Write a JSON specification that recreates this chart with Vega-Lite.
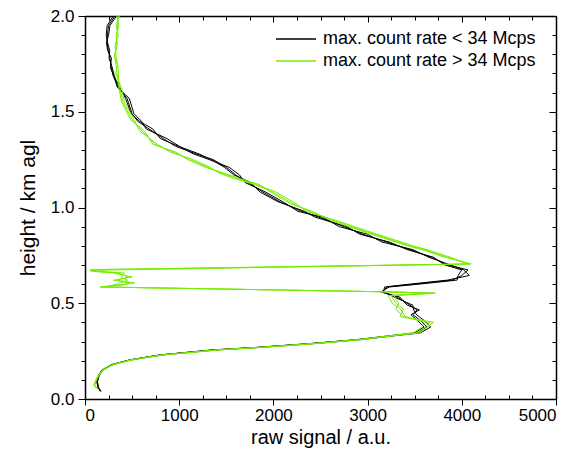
{
  "$schema": "https://vega.github.io/schema/vega-lite/v6.json",
  "width": 471,
  "height": 383,
  "autosize": {"type": "none"},
  "padding": {"left": 85, "top": 16, "right": 22, "bottom": 55},
  "background": "white",
  "config": {
    "font": "Liberation Sans",
    "view": {"stroke": null},
    "axis": {
      "domainColor": "black",
      "domainWidth": 1.5,
      "tickColor": "black",
      "tickWidth": 1,
      "labelColor": "black",
      "titleColor": "black",
      "labelFont": "Liberation Sans",
      "titleFont": "Liberation Sans",
      "labelFontSize": 17,
      "titleFontSize": 20,
      "titleFontWeight": "normal",
      "grid": false,
      "labelOverlap": false
    },
    "legend": {"labelFont": "Liberation Sans"}
  },
  "data": {"values": [
    {"g":"<","p":"b1","h":2.00,"x":318},{"g":"<","p":"b1","h":1.95,"x":250},{"g":"<","p":"b1","h":1.90,"x":238},{"g":"<","p":"b1","h":1.86,"x":233},{"g":"<","p":"b1","h":1.82,"x":250},{"g":"<","p":"b1","h":1.78,"x":265},{"g":"<","p":"b1","h":1.73,"x":280},{"g":"<","p":"b1","h":1.69,"x":297},{"g":"<","p":"b1","h":1.63,"x":350},{"g":"<","p":"b1","h":1.57,"x":446},{"g":"<","p":"b1","h":1.49,"x":500},{"g":"<","p":"b1","h":1.45,"x":560},{"g":"<","p":"b1","h":1.41,"x":680},{"g":"<","p":"b1","h":1.36,"x":830},{"g":"<","p":"b1","h":1.32,"x":960},{"g":"<","p":"b1","h":1.28,"x":1180},{"g":"<","p":"b1","h":1.25,"x":1360},{"g":"<","p":"b1","h":1.21,"x":1500},{"g":"<","p":"b1","h":1.17,"x":1600},{"g":"<","p":"b1","h":1.13,"x":1730},{"g":"<","p":"b1","h":1.08,"x":1890},{"g":"<","p":"b1","h":1.03,"x":2070},{"g":"<","p":"b1","h":0.98,"x":2300},{"g":"<","p":"b1","h":0.95,"x":2480},{"g":"<","p":"b1","h":0.90,"x":2750},{"g":"<","p":"b1","h":0.86,"x":2950},{"g":"<","p":"b1","h":0.82,"x":3200},{"g":"<","p":"b1","h":0.78,"x":3450},{"g":"<","p":"b1","h":0.74,"x":3680},{"g":"<","p":"b1","h":0.70,"x":3850},{"g":"<","p":"b1","h":0.674,"x":4066},{"g":"<","p":"b1","h":0.645,"x":4000},{"g":"<","p":"b1","h":0.621,"x":3900},{"g":"<","p":"b1","h":0.60,"x":3500},{"g":"<","p":"b1","h":0.585,"x":3206},{"g":"<","p":"b1","h":0.559,"x":3153},{"g":"<","p":"b1","h":0.533,"x":3312},{"g":"<","p":"b1","h":0.49,"x":3450},{"g":"<","p":"b1","h":0.465,"x":3524},{"g":"<","p":"b1","h":0.44,"x":3482},{"g":"<","p":"b1","h":0.41,"x":3560},{"g":"<","p":"b1","h":0.376,"x":3630},{"g":"<","p":"b1","h":0.345,"x":3524},{"g":"<","p":"b1","h":0.33,"x":3250},{"g":"<","p":"b1","h":0.31,"x":2900},{"g":"<","p":"b1","h":0.29,"x":2420},{"g":"<","p":"b1","h":0.27,"x":1850},{"g":"<","p":"b1","h":0.256,"x":1360},{"g":"<","p":"b1","h":0.23,"x":800},{"g":"<","p":"b1","h":0.204,"x":478},{"g":"<","p":"b1","h":0.18,"x":290},{"g":"<","p":"b1","h":0.15,"x":180},{"g":"<","p":"b1","h":0.12,"x":145},{"g":"<","p":"b1","h":0.09,"x":128},{"g":"<","p":"b1","h":0.06,"x":140},{"g":"<","p":"b1","h":0.04,"x":165},
    {"g":"<","p":"b2","h":2.00,"x":300},{"g":"<","p":"b2","h":1.95,"x":235},{"g":"<","p":"b2","h":1.90,"x":225},{"g":"<","p":"b2","h":1.86,"x":240},{"g":"<","p":"b2","h":1.82,"x":262},{"g":"<","p":"b2","h":1.78,"x":255},{"g":"<","p":"b2","h":1.73,"x":290},{"g":"<","p":"b2","h":1.69,"x":310},{"g":"<","p":"b2","h":1.63,"x":340},{"g":"<","p":"b2","h":1.57,"x":470},{"g":"<","p":"b2","h":1.49,"x":520},{"g":"<","p":"b2","h":1.45,"x":600},{"g":"<","p":"b2","h":1.41,"x":650},{"g":"<","p":"b2","h":1.36,"x":870},{"g":"<","p":"b2","h":1.32,"x":1000},{"g":"<","p":"b2","h":1.28,"x":1150},{"g":"<","p":"b2","h":1.25,"x":1320},{"g":"<","p":"b2","h":1.21,"x":1530},{"g":"<","p":"b2","h":1.17,"x":1640},{"g":"<","p":"b2","h":1.13,"x":1700},{"g":"<","p":"b2","h":1.08,"x":1920},{"g":"<","p":"b2","h":1.03,"x":2100},{"g":"<","p":"b2","h":0.98,"x":2260},{"g":"<","p":"b2","h":0.95,"x":2520},{"g":"<","p":"b2","h":0.90,"x":2700},{"g":"<","p":"b2","h":0.86,"x":3000},{"g":"<","p":"b2","h":0.82,"x":3150},{"g":"<","p":"b2","h":0.78,"x":3480},{"g":"<","p":"b2","h":0.74,"x":3650},{"g":"<","p":"b2","h":0.70,"x":3880},{"g":"<","p":"b2","h":0.674,"x":4020},{"g":"<","p":"b2","h":0.645,"x":4080},{"g":"<","p":"b2","h":0.621,"x":3850},{"g":"<","p":"b2","h":0.60,"x":3450},{"g":"<","p":"b2","h":0.585,"x":3180},{"g":"<","p":"b2","h":0.559,"x":3170},{"g":"<","p":"b2","h":0.533,"x":3280},{"g":"<","p":"b2","h":0.49,"x":3480},{"g":"<","p":"b2","h":0.465,"x":3490},{"g":"<","p":"b2","h":0.44,"x":3520},{"g":"<","p":"b2","h":0.41,"x":3600},{"g":"<","p":"b2","h":0.376,"x":3670},{"g":"<","p":"b2","h":0.345,"x":3560},{"g":"<","p":"b2","h":0.33,"x":3280},{"g":"<","p":"b2","h":0.31,"x":2930},{"g":"<","p":"b2","h":0.29,"x":2450},{"g":"<","p":"b2","h":0.27,"x":1880},{"g":"<","p":"b2","h":0.256,"x":1390},{"g":"<","p":"b2","h":0.23,"x":820},{"g":"<","p":"b2","h":0.204,"x":490},{"g":"<","p":"b2","h":0.18,"x":300},{"g":"<","p":"b2","h":0.15,"x":185},{"g":"<","p":"b2","h":0.12,"x":150},{"g":"<","p":"b2","h":0.09,"x":132},{"g":"<","p":"b2","h":0.06,"x":145},{"g":"<","p":"b2","h":0.04,"x":170},
    {"g":"<","p":"b3","h":2.00,"x":335},{"g":"<","p":"b3","h":1.95,"x":265},{"g":"<","p":"b3","h":1.90,"x":250},{"g":"<","p":"b3","h":1.86,"x":228},{"g":"<","p":"b3","h":1.82,"x":240},{"g":"<","p":"b3","h":1.78,"x":280},{"g":"<","p":"b3","h":1.73,"x":270},{"g":"<","p":"b3","h":1.69,"x":305},{"g":"<","p":"b3","h":1.63,"x":365},{"g":"<","p":"b3","h":1.57,"x":430},{"g":"<","p":"b3","h":1.49,"x":490},{"g":"<","p":"b3","h":1.45,"x":580},{"g":"<","p":"b3","h":1.41,"x":720},{"g":"<","p":"b3","h":1.36,"x":800},{"g":"<","p":"b3","h":1.32,"x":990},{"g":"<","p":"b3","h":1.28,"x":1210},{"g":"<","p":"b3","h":1.25,"x":1340},{"g":"<","p":"b3","h":1.21,"x":1480},{"g":"<","p":"b3","h":1.17,"x":1580},{"g":"<","p":"b3","h":1.13,"x":1760},{"g":"<","p":"b3","h":1.08,"x":1860},{"g":"<","p":"b3","h":1.03,"x":2050},{"g":"<","p":"b3","h":0.98,"x":2330},{"g":"<","p":"b3","h":0.95,"x":2440},{"g":"<","p":"b3","h":0.90,"x":2780},{"g":"<","p":"b3","h":0.86,"x":2920},{"g":"<","p":"b3","h":0.82,"x":3230},{"g":"<","p":"b3","h":0.78,"x":3420},{"g":"<","p":"b3","h":0.74,"x":3700},{"g":"<","p":"b3","h":0.70,"x":3820},{"g":"<","p":"b3","h":0.674,"x":4000},{"g":"<","p":"b3","h":0.645,"x":3960},{"g":"<","p":"b3","h":0.621,"x":3950},{"g":"<","p":"b3","h":0.60,"x":3550},{"g":"<","p":"b3","h":0.585,"x":3230},{"g":"<","p":"b3","h":0.559,"x":3140},{"g":"<","p":"b3","h":0.533,"x":3340},{"g":"<","p":"b3","h":0.49,"x":3420},{"g":"<","p":"b3","h":0.465,"x":3550},{"g":"<","p":"b3","h":0.44,"x":3460},{"g":"<","p":"b3","h":0.41,"x":3530},{"g":"<","p":"b3","h":0.376,"x":3600},{"g":"<","p":"b3","h":0.345,"x":3500},{"g":"<","p":"b3","h":0.33,"x":3230},{"g":"<","p":"b3","h":0.31,"x":2880},{"g":"<","p":"b3","h":0.29,"x":2400},{"g":"<","p":"b3","h":0.27,"x":1830},{"g":"<","p":"b3","h":0.256,"x":1340},{"g":"<","p":"b3","h":0.23,"x":790},{"g":"<","p":"b3","h":0.204,"x":470},{"g":"<","p":"b3","h":0.18,"x":285},{"g":"<","p":"b3","h":0.15,"x":175},{"g":"<","p":"b3","h":0.12,"x":140},{"g":"<","p":"b3","h":0.09,"x":125},{"g":"<","p":"b3","h":0.06,"x":138},{"g":"<","p":"b3","h":0.04,"x":160},
    {"g":">","p":"g1","h":2.00,"x":350},{"g":">","p":"g1","h":1.95,"x":345},{"g":">","p":"g1","h":1.90,"x":340},{"g":">","p":"g1","h":1.85,"x":330},{"g":">","p":"g1","h":1.79,"x":318},{"g":">","p":"g1","h":1.74,"x":330},{"g":">","p":"g1","h":1.70,"x":340},{"g":">","p":"g1","h":1.62,"x":372},{"g":">","p":"g1","h":1.55,"x":403},{"g":">","p":"g1","h":1.46,"x":499},{"g":">","p":"g1","h":1.40,"x":605},{"g":">","p":"g1","h":1.33,"x":743},{"g":">","p":"g1","h":1.29,"x":934},{"g":">","p":"g1","h":1.25,"x":1120},{"g":">","p":"g1","h":1.21,"x":1300},{"g":">","p":"g1","h":1.18,"x":1450},{"g":">","p":"g1","h":1.15,"x":1620},{"g":">","p":"g1","h":1.12,"x":1800},{"g":">","p":"g1","h":1.08,"x":1996},{"g":">","p":"g1","h":1.02,"x":2208},{"g":">","p":"g1","h":0.98,"x":2380},{"g":">","p":"g1","h":0.93,"x":2650},{"g":">","p":"g1","h":0.88,"x":2950},{"g":">","p":"g1","h":0.84,"x":3200},{"g":">","p":"g1","h":0.80,"x":3450},{"g":">","p":"g1","h":0.78,"x":3600},{"g":">","p":"g1","h":0.74,"x":3850},{"g":">","p":"g1","h":0.705,"x":4087},{"g":">","p":"g1","h":0.674,"x":53},{"g":">","p":"g1","h":0.668,"x":60},{"g":">","p":"g1","h":0.658,"x":350},{"g":">","p":"g1","h":0.637,"x":456},{"g":">","p":"g1","h":0.62,"x":340},{"g":">","p":"g1","h":0.606,"x":530},{"g":">","p":"g1","h":0.595,"x":350},{"g":">","p":"g1","h":0.585,"x":159},{"g":">","p":"g1","h":0.56,"x":3153},{"g":">","p":"g1","h":0.553,"x":3694},{"g":">","p":"g1","h":0.54,"x":3250},{"g":">","p":"g1","h":0.50,"x":3300},{"g":">","p":"g1","h":0.47,"x":3380},{"g":">","p":"g1","h":0.43,"x":3344},{"g":">","p":"g1","h":0.40,"x":3662},{"g":">","p":"g1","h":0.37,"x":3600},{"g":">","p":"g1","h":0.345,"x":3520},{"g":">","p":"g1","h":0.33,"x":3250},{"g":">","p":"g1","h":0.31,"x":2920},{"g":">","p":"g1","h":0.29,"x":2450},{"g":">","p":"g1","h":0.27,"x":1880},{"g":">","p":"g1","h":0.256,"x":1400},{"g":">","p":"g1","h":0.23,"x":820},{"g":">","p":"g1","h":0.204,"x":490},{"g":">","p":"g1","h":0.18,"x":300},{"g":">","p":"g1","h":0.15,"x":185},{"g":">","p":"g1","h":0.12,"x":140},{"g":">","p":"g1","h":0.09,"x":110},{"g":">","p":"g1","h":0.07,"x":100},{"g":">","p":"g1","h":0.05,"x":140},
    {"g":">","p":"g2","h":2.00,"x":365},{"g":">","p":"g2","h":1.95,"x":330},{"g":">","p":"g2","h":1.90,"x":355},{"g":">","p":"g2","h":1.85,"x":320},{"g":">","p":"g2","h":1.79,"x":330},{"g":">","p":"g2","h":1.74,"x":345},{"g":">","p":"g2","h":1.70,"x":325},{"g":">","p":"g2","h":1.62,"x":390},{"g":">","p":"g2","h":1.55,"x":420},{"g":">","p":"g2","h":1.46,"x":520},{"g":">","p":"g2","h":1.40,"x":580},{"g":">","p":"g2","h":1.33,"x":770},{"g":">","p":"g2","h":1.29,"x":900},{"g":">","p":"g2","h":1.25,"x":1150},{"g":">","p":"g2","h":1.21,"x":1330},{"g":">","p":"g2","h":1.18,"x":1420},{"g":">","p":"g2","h":1.15,"x":1590},{"g":">","p":"g2","h":1.12,"x":1830},{"g":">","p":"g2","h":1.08,"x":2030},{"g":">","p":"g2","h":1.02,"x":2240},{"g":">","p":"g2","h":0.98,"x":2350},{"g":">","p":"g2","h":0.93,"x":2680},{"g":">","p":"g2","h":0.88,"x":2980},{"g":">","p":"g2","h":0.84,"x":3230},{"g":">","p":"g2","h":0.80,"x":3480},{"g":">","p":"g2","h":0.78,"x":3630},{"g":">","p":"g2","h":0.74,"x":3880},{"g":">","p":"g2","h":0.705,"x":4060},{"g":">","p":"g2","h":0.676,"x":80},{"g":">","p":"g2","h":0.668,"x":120},{"g":">","p":"g2","h":0.658,"x":420},{"g":">","p":"g2","h":0.637,"x":380},{"g":">","p":"g2","h":0.62,"x":450},{"g":">","p":"g2","h":0.606,"x":380},{"g":">","p":"g2","h":0.595,"x":300},{"g":">","p":"g2","h":0.585,"x":200},{"g":">","p":"g2","h":0.56,"x":3170},{"g":">","p":"g2","h":0.553,"x":3650},{"g":">","p":"g2","h":0.54,"x":3220},{"g":">","p":"g2","h":0.50,"x":3260},{"g":">","p":"g2","h":0.47,"x":3350},{"g":">","p":"g2","h":0.43,"x":3400},{"g":">","p":"g2","h":0.40,"x":3620},{"g":">","p":"g2","h":0.37,"x":3560},{"g":">","p":"g2","h":0.345,"x":3480},{"g":">","p":"g2","h":0.33,"x":3230},{"g":">","p":"g2","h":0.31,"x":2900},{"g":">","p":"g2","h":0.29,"x":2430},{"g":">","p":"g2","h":0.27,"x":1860},{"g":">","p":"g2","h":0.256,"x":1380},{"g":">","p":"g2","h":0.23,"x":810},{"g":">","p":"g2","h":0.204,"x":480},{"g":">","p":"g2","h":0.18,"x":295},{"g":">","p":"g2","h":0.15,"x":180},{"g":">","p":"g2","h":0.12,"x":135},{"g":">","p":"g2","h":0.09,"x":105},{"g":">","p":"g2","h":0.07,"x":95},{"g":">","p":"g2","h":0.05,"x":135},
    {"g":">","p":"g3","h":2.00,"x":340},{"g":">","p":"g3","h":1.95,"x":360},{"g":">","p":"g3","h":1.90,"x":330},{"g":">","p":"g3","h":1.85,"x":345},{"g":">","p":"g3","h":1.79,"x":310},{"g":">","p":"g3","h":1.74,"x":350},{"g":">","p":"g3","h":1.70,"x":355},{"g":">","p":"g3","h":1.62,"x":360},{"g":">","p":"g3","h":1.55,"x":390},{"g":">","p":"g3","h":1.46,"x":480},{"g":">","p":"g3","h":1.40,"x":630},{"g":">","p":"g3","h":1.33,"x":720},{"g":">","p":"g3","h":1.29,"x":960},{"g":">","p":"g3","h":1.25,"x":1090},{"g":">","p":"g3","h":1.21,"x":1280},{"g":">","p":"g3","h":1.18,"x":1470},{"g":">","p":"g3","h":1.15,"x":1650},{"g":">","p":"g3","h":1.12,"x":1850},{"g":">","p":"g3","h":1.08,"x":1970},{"g":">","p":"g3","h":1.02,"x":2180},{"g":">","p":"g3","h":0.98,"x":2410},{"g":">","p":"g3","h":0.93,"x":2620},{"g":">","p":"g3","h":0.88,"x":2920},{"g":">","p":"g3","h":0.84,"x":3170},{"g":">","p":"g3","h":0.80,"x":3420},{"g":">","p":"g3","h":0.78,"x":3580},{"g":">","p":"g3","h":0.74,"x":3820},{"g":">","p":"g3","h":0.705,"x":4100},{"g":">","p":"g3","h":0.672,"x":60},{"g":">","p":"g3","h":0.666,"x":100},{"g":">","p":"g3","h":0.658,"x":300},{"g":">","p":"g3","h":0.637,"x":500},{"g":">","p":"g3","h":0.62,"x":300},{"g":">","p":"g3","h":0.606,"x":480},{"g":">","p":"g3","h":0.595,"x":400},{"g":">","p":"g3","h":0.585,"x":170},{"g":">","p":"g3","h":0.56,"x":3140},{"g":">","p":"g3","h":0.553,"x":3720},{"g":">","p":"g3","h":0.54,"x":3280},{"g":">","p":"g3","h":0.50,"x":3330},{"g":">","p":"g3","h":0.47,"x":3300},{"g":">","p":"g3","h":0.43,"x":3380},{"g":">","p":"g3","h":0.40,"x":3700},{"g":">","p":"g3","h":0.37,"x":3620},{"g":">","p":"g3","h":0.345,"x":3550},{"g":">","p":"g3","h":0.33,"x":3270},{"g":">","p":"g3","h":0.31,"x":2940},{"g":">","p":"g3","h":0.29,"x":2470},{"g":">","p":"g3","h":0.27,"x":1900},{"g":">","p":"g3","h":0.256,"x":1420},{"g":">","p":"g3","h":0.23,"x":830},{"g":">","p":"g3","h":0.204,"x":500},{"g":">","p":"g3","h":0.18,"x":305},{"g":">","p":"g3","h":0.15,"x":190},{"g":">","p":"g3","h":0.12,"x":145},{"g":">","p":"g3","h":0.09,"x":115},{"g":">","p":"g3","h":0.07,"x":105},{"g":">","p":"g3","h":0.05,"x":145}
  ]},
  "layer": [
    {
      "mark": {"type": "line", "strokeWidth": 1, "clip": true},
      "encoding": {
        "x": {
          "field": "x", "type": "quantitative",
          "scale": {"domain": [0, 5000], "nice": false, "zero": false},
          "axis": {
            "title": "raw signal / a.u.",
            "titlePadding": 4,
            "values": [0,250,500,750,1000,1250,1500,1750,2000,2250,2500,2750,3000,3250,3500,3750,4000,4250,4500,4750,5000],
            "format": "d",
            "labelExpr": "datum.value % 1000 === 0 ? datum.label : ''",
            "tickSize": {"condition": {"test": "datum.value % 1000 === 0", "value": 6}, "value": -4},
            "labelPadding": 2
          }
        },
        "y": {
          "field": "h", "type": "quantitative",
          "scale": {"domain": [0, 2], "nice": false, "zero": false},
          "axis": {
            "title": "height / km agl",
            "titleFontSize": 21,
            "titlePadding": 12,
            "values": [0,0.1,0.2,0.3,0.4,0.5,0.6,0.7,0.8,0.9,1.0,1.1,1.2,1.3,1.4,1.5,1.6,1.7,1.8,1.9,2.0],
            "format": ".1f",
            "labelExpr": "round(datum.value * 10) % 5 === 0 ? datum.label : ''",
            "tickSize": {"condition": {"test": "round(datum.value * 10) % 5 === 0", "value": 7}, "value": 4},
            "labelPadding": 4
          }
        },
        "color": {
          "field": "g", "type": "nominal",
          "scale": {"domain": ["<", ">"], "range": ["#000000", "#76ee00"]},
          "legend": {
            "title": null,
            "orient": "none",
            "legendX": 190,
            "legendY": 14,
            "symbolType": "stroke",
            "symbolSize": 1600,
            "symbolStrokeWidth": 1.5,
            "clipHeight": 18,
            "labelFontSize": 18,
            "labelLimit": 400,
            "labelColor": "black",
            "rowPadding": 4,
            "labelOffset": 6,
            "labelExpr": "datum.label === '<' ? 'max. count rate < 34 Mcps' : 'max. count rate > 34 Mcps'"
          }
        },
        "detail": {"field": "p", "type": "nominal"},
        "order": {"field": "h", "type": "quantitative", "sort": "descending"}
      }
    },
    {
      "mark": {"type": "point", "opacity": 0},
      "encoding": {
        "x": {
          "field": "x", "type": "quantitative",
          "scale": {"domain": [0, 5000], "nice": false, "zero": false},
          "axis": {
            "orient": "top", "title": null, "labels": false,
            "values": [0,250,500,750,1000,1250,1500,1750,2000,2250,2500,2750,3000,3250,3500,3750,4000,4250,4500,4750,5000],
            "tickSize": {"condition": {"test": "datum.value % 1000 === 0", "value": -6}, "value": -4}
          }
        },
        "y": {
          "field": "h", "type": "quantitative",
          "scale": {"domain": [0, 2], "nice": false, "zero": false},
          "axis": {
            "orient": "right", "title": null, "labels": false,
            "values": [0,0.1,0.2,0.3,0.4,0.5,0.6,0.7,0.8,0.9,1.0,1.1,1.2,1.3,1.4,1.5,1.6,1.7,1.8,1.9,2.0],
            "tickSize": {"condition": {"test": "round(datum.value * 10) % 5 === 0", "value": -7}, "value": -4}
          }
        }
      }
    }
  ],
  "resolve": {"axis": {"x": "independent", "y": "independent"}}
}
